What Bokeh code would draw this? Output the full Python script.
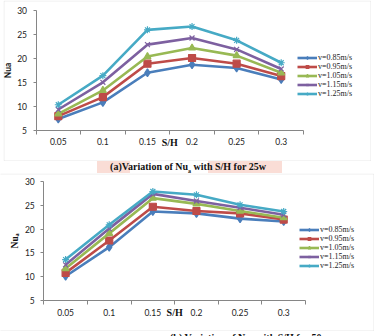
from bokeh.plotting import figure
from bokeh.models import (FixedTicker, Legend, LegendItem, Range1d, Div,
                          Label, BoxAnnotation)
from bokeh.layouts import column
from bokeh.embed import file_html
from bokeh.resources import INLINE

# Spacing ratio categories (x axis) and air speeds (series)
SH = ["0.05", "0.1", "0.15", "0.2", "0.25", "0.3"]
SPEEDS = ["v=0.85m/s", "v=0.95m/s", "v=1.05m/s", "v=1.15m/s", "v=1.25m/s"]
Y_TICKS = [5, 10, 15, 20, 25, 30]

# Average Nusselt number, 25 W heat input
NU_25W_085 = [7.3, 10.8, 17.0, 18.7, 18.0, 15.6]
NU_25W_095 = [7.9, 11.9, 18.9, 20.1, 18.9, 16.3]
NU_25W_105 = [8.4, 13.3, 20.4, 22.2, 20.6, 17.0]
NU_25W_115 = [9.3, 15.0, 22.9, 24.3, 21.9, 17.8]
NU_25W_125 = [10.3, 16.4, 26.0, 26.7, 23.8, 19.1]

# Average Nusselt number, 50 W heat input
NU_50W_085 = [10.1, 16.2, 23.7, 23.3, 22.2, 21.6]
NU_50W_095 = [10.8, 17.6, 24.7, 23.8, 23.3, 22.0]
NU_50W_105 = [11.7, 19.1, 26.5, 25.3, 23.8, 22.4]
NU_50W_115 = [12.5, 20.1, 27.4, 25.9, 24.5, 23.0]
NU_50W_125 = [13.6, 20.9, 27.9, 27.2, 25.1, 23.7]

COLORS = ["#4A7EBB", "#BE4B48", "#98B954", "#7D60A0", "#46AAC5"]
MARKERS = ["diamond", "square", "triangle", "x", "asterisk"]
MSIZES = [8, 7, 7, 7, 7]

SANS = "Lato"
SERIF = "Liberation Serif"
AXIS_GREY = "#868686"
BOX_GREY = "#BFBFBF"


def fit_range(lo, hi, px_lo, px_hi, size):
    """Range whose values lo/hi land at canvas pixels px_lo/px_hi."""
    per_px = (hi - lo) / (px_hi - px_lo)
    return Range1d(lo - px_lo * per_px, hi + (size - px_hi) * per_px)


def make_chart(series, ylabel, ylabel_font, ylabel_size, width, height,
               plot_box, legend_loc, show_left_edge):
    # plot_box: canvas pixels of the axes (left, right, top, bottom)
    left, right, top, bottom = plot_box
    n = len(SH)
    x_rng = fit_range(0, n, left, right, width)
    # screen y grows downward, so fit the flipped values
    y_lo, y_hi = Y_TICKS[0], Y_TICKS[-1]
    y_px = fit_range(-y_hi, -y_lo, top, bottom, height)
    y_rng = Range1d(-y_px.end, -y_px.start)

    p = figure(width=width, height=height, output_backend="svg",
               toolbar_location=None, x_range=x_rng, y_range=y_rng,
               min_border=0, min_border_left=0, min_border_right=0,
               min_border_top=0, min_border_bottom=0)
    p.outline_line_color = None
    p.xgrid.visible = False
    p.ygrid.visible = False
    p.background_fill_color = "white"
    p.border_fill_color = "white"

    # chart-area border
    px_x = (x_rng.end - x_rng.start) / width
    px_y = (y_rng.end - y_rng.start) / height
    p.add_layout(BoxAnnotation(
        left=x_rng.start + 0.5 * px_x if show_left_edge else x_rng.start - 5,
        right=x_rng.end - 0.6 * px_x, top=y_rng.end - 0.5 * px_y,
        bottom=y_rng.start + 0.6 * px_y, fill_alpha=0,
        line_color=BOX_GREY, line_width=1))

    centers = [i + 0.5 for i in range(n)]

    # category axis: labels at centers, tick marks between categories
    xa = p.xaxis[0]
    xa.fixed_location = y_lo
    xa.bounds = (0, n)
    xa.ticker = FixedTicker(ticks=centers, minor_ticks=list(range(n + 1)))
    xa.major_label_overrides = {c: s for c, s in zip(centers, SH)}
    xa.major_tick_out = 0
    xa.major_tick_in = 0
    xa.minor_tick_out = 4
    xa.minor_tick_in = 0
    xa.minor_tick_line_color = AXIS_GREY
    xa.axis_line_color = AXIS_GREY
    xa.major_label_text_font = SANS
    xa.major_label_text_font_size = "8.5px"
    xa.major_label_text_color = "#222222"
    xa.major_label_standoff = 4

    ya = p.yaxis[0]
    ya.fixed_location = 0
    ya.bounds = (y_lo, y_hi)
    ya.ticker = FixedTicker(ticks=Y_TICKS, minor_ticks=[])
    ya.major_tick_out = 3
    ya.major_tick_in = 0
    ya.major_tick_line_color = AXIS_GREY
    ya.axis_line_color = AXIS_GREY
    ya.major_label_text_font = SANS
    ya.major_label_text_font_size = "8.5px"
    ya.major_label_text_color = "#222222"
    ya.major_label_standoff = 6
    ya.axis_label = ylabel
    ya.axis_label_text_font = ylabel_font
    ya.axis_label_text_font_size = ylabel_size
    ya.axis_label_text_font_style = "bold"
    ya.axis_label_text_color = "#111111"
    ya.axis_label_standoff = 2

    # x-axis title on the row of category labels, between 0.15 and 0.2
    p.add_layout(Label(x=n / 2, y=y_lo, y_offset=-12, text="S/H",
                       text_font=SERIF, text_font_size="10px",
                       text_font_style="bold", text_align="center",
                       text_baseline="middle", text_color="#111111"))

    items = []
    for vals, name, col, mk, ms in zip(series, SPEEDS, COLORS, MARKERS, MSIZES):
        ln = p.line(centers, vals, line_color=col, line_width=2.6)
        sc = p.scatter(centers, vals, marker=mk, size=ms, fill_color=col,
                       line_color=col, line_width=1.2)
        items.append(LegendItem(label=name, renderers=[ln, sc]))

    leg = Legend(items=items, location=legend_loc)
    leg.label_text_font = SERIF
    leg.label_text_font_size = "8px"
    leg.label_text_color = "#222222"
    leg.label_height = 7
    leg.glyph_height = 7
    leg.glyph_width = 20
    leg.label_standoff = 1
    leg.spacing = 0
    leg.padding = 0
    leg.margin = 0
    leg.border_line_color = None
    leg.background_fill_alpha = 0
    p.add_layout(leg)
    return p


top_chart = make_chart(
    [NU_25W_085, NU_25W_095, NU_25W_105, NU_25W_115, NU_25W_125],
    "Nua", SANS, "8.5px", 368, 161, (32.5, 300, 10.3, 129.5), (294, 63), True)
top_chart.margin = (0, 0, 0, 3)

bottom_chart = make_chart(
    [NU_50W_085, NU_50W_095, NU_50W_105, NU_50W_115, NU_50W_125],
    "Nuₐ", SERIF, "9.5px", 374, 158, (43.3, 305, 8, 127), (299, 61), False)
bottom_chart.margin = 0

cap_style = {"font-family": SERIF, "font-weight": "bold", "font-size": "10px",
             "color": "#111111", "overflow": "hidden"}

caption_a = Div(
    text="(a)Variation of Nu<sub style='font-size:6px;line-height:0'>a</sub> with S/H for 25w",
    width=376, height=12, margin=0,
    styles=dict(cap_style, **{
        "text-align": "center", "line-height": "12px",
        "background": "linear-gradient(to right, #ffffff 97px, #FADDD6 97px, "
                      "#FADDD6 130px, #ffffff 130px, #ffffff 208px, "
                      "#FADDD6 208px, #FADDD6 282px, #ffffff 282px)"}))

caption_b = Div(
    text="(b) Variation of Nu<sub style='font-size:6px;line-height:0'>a</sub> with S/H for 50w",
    width=376, height=5, margin=0,
    styles=dict(cap_style, **{"line-height": "14px", "padding-left": "170px"}))

layout = column(top_chart, caption_a, bottom_chart, caption_b, spacing=0)

with open("out.html", "w") as f:
    f.write(file_html(layout, INLINE))
